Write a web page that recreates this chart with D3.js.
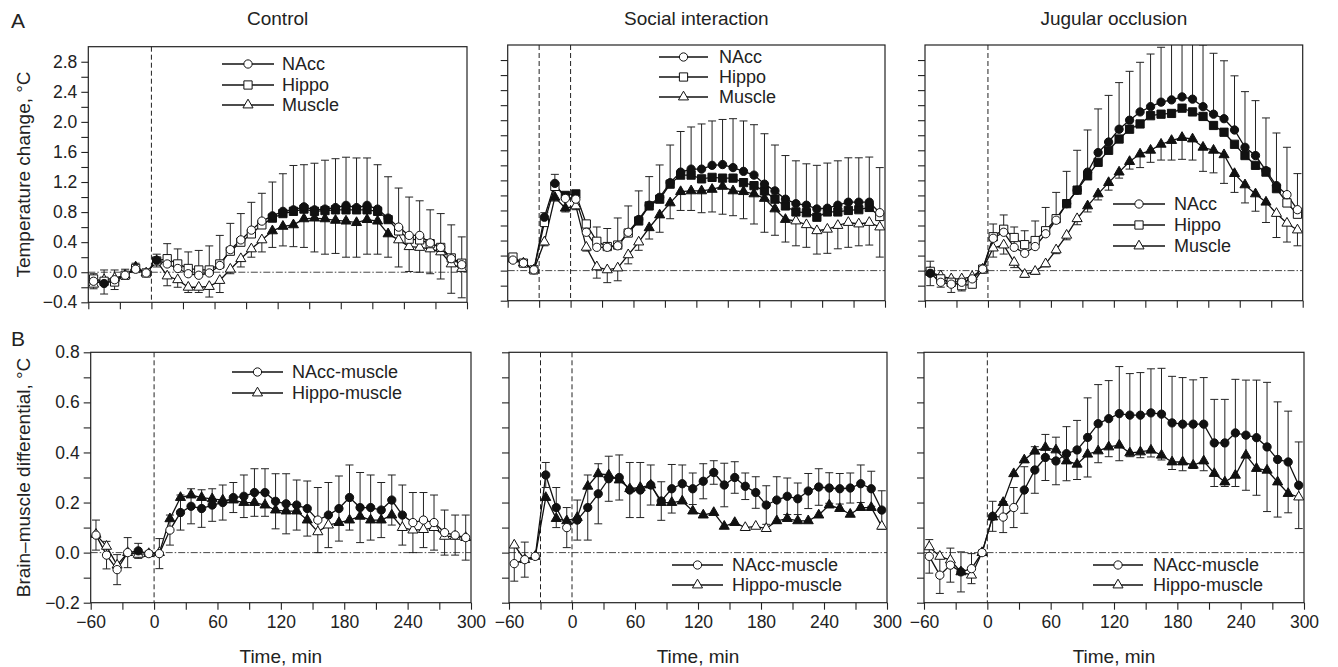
<!DOCTYPE html>
<html><head><meta charset="utf-8">
<script src="https://cdn.jsdelivr.net/npm/d3@7"></script>
<style>
body{margin:0;background:#fff}
text{font-family:"Liberation Sans",Arial,sans-serif;fill:#222}
</style></head>
<body><svg id="c" width="1338" height="667"></svg>
<script>
// ---------- DATA ----------
const times = [-55,-45,-35,-25,-15,-5,5,15,25,35,45,55,65,75,85,95,105,115,125,135,145,155,165,175,185,195,205,215,225,235,245,255,265,275,285,295];
const colTitles = ["Control","Social interaction","Jugular occlusion"];
const topLegend = ["NAcc","Hippo","Muscle"];
const botLegend = ["NAcc-muscle","Hippo-muscle"];
const xMajor = [-60,0,60,120,180,240,300];
const xMinor = [-30,30,90,150,210,270];
const topYMajor = [-0.4,0,0.4,0.8,1.2,1.6,2.0,2.4,2.8];
const topYMinor = [-0.2,0.2,0.6,1.0,1.4,1.8,2.2,2.6];
const botYMajor = [-0.2,0,0.2,0.4,0.6,0.8];
const botYMinor = [-0.1,0.1,0.3,0.5,0.7];

// Control, temperature
const ctrlNAcc = [-0.12,-0.15,-0.10,-0.04,0.04,-0.01,0.16,0.11,0.05,-0.02,-0.04,-0.01,0.09,0.30,0.43,0.56,0.68,0.75,0.81,0.83,0.87,0.83,0.84,0.86,0.89,0.86,0.89,0.84,0.72,0.60,0.49,0.49,0.39,0.33,0.18,0.10];
const ctrlHippo = [-0.09,-0.12,-0.13,-0.04,0.05,-0.01,0.15,0.18,0.11,0.05,0.03,0.03,0.11,0.28,0.40,0.51,0.63,0.72,0.78,0.81,0.84,0.81,0.82,0.83,0.83,0.83,0.83,0.81,0.70,0.55,0.44,0.43,0.38,0.33,0.19,0.12];
const ctrlMuscle = [-0.16,-0.10,-0.08,-0.04,0.07,-0.01,0.15,-0.05,-0.10,-0.20,-0.20,-0.19,-0.11,0.04,0.18,0.31,0.43,0.55,0.61,0.63,0.71,0.72,0.71,0.69,0.68,0.66,0.70,0.68,0.51,0.43,0.34,0.33,0.31,0.27,0.11,0.05];
const ctrlErrUp = [0.10,0.18,0.13,0.08,0.08,0.04,0.08,0.27,0.26,0.29,0.33,0.36,0.40,0.35,0.35,0.37,0.37,0.45,0.50,0.59,0.56,0.62,0.65,0.65,0.64,0.66,0.63,0.59,0.55,0.52,0.51,0.46,0.44,0.45,0.45,0.37];
const ctrlErrDown = [0.06,0.19,0.15,0.03,0.03,0.03,0.08,0.13,0.10,0.07,0.07,0.14,0.16,0.06,0.11,0.11,0.16,0.22,0.26,0.29,0.38,0.45,0.47,0.44,0.48,0.46,0.46,0.44,0.31,0.36,0.33,0.33,0.33,0.36,0.39,0.39];
const ctrlSigN = [0,1,0,0,0,0, 1,0,0,0,0,0, 0,0,0,0,0,1, 1,1,1,1,1,1, 1,1,1,1,1,0, 0,0,0,0,0,0];
const ctrlSigH = [0,0,0,0,0,0, 0,0,0,0,0,0, 0,0,0,0,0,1, 1,1,1,1,1,1, 1,1,1,1,1,0, 0,0,0,0,0,0];
const ctrlSigM = [0,0,0,0,1,0, 0,0,0,0,0,0, 0,0,0,0,0,1, 1,1,1,1,1,1, 1,1,1,1,1,0, 0,0,0,0,0,0];

// Social interaction, temperature
const socNAcc = [0.14,0.10,0.01,0.71,1.16,0.96,0.95,0.51,0.31,0.31,0.33,0.51,0.68,0.87,0.975,1.17,1.31,1.35,1.35,1.40,1.41,1.37,1.32,1.27,1.15,1.06,0.95,0.89,0.87,0.82,0.83,0.87,0.91,0.91,0.91,0.77];
const socHippo = [0.18,0.10,0.01,0.64,1.12,1.00,1.02,0.62,0.39,0.32,0.34,0.50,0.66,0.86,0.95,1.15,1.27,1.27,1.22,1.24,1.23,1.23,1.17,1.13,1.06,0.95,0.86,0.78,0.77,0.71,0.78,0.78,0.80,0.81,0.84,0.72];
const socMuscle = [0.155,0.10,0.01,0.38,0.975,0.83,0.86,0.31,0.05,0.01,0.035,0.21,0.38,0.57,0.74,0.90,1.05,1.06,1.06,1.08,1.12,1.06,1.05,1.02,0.96,0.82,0.68,0.66,0.61,0.53,0.55,0.60,0.64,0.62,0.64,0.58];
const socErrUp = [0.03,0.02,0.02,0.06,0.12,0.05,0.05,0.12,0.27,0.25,0.37,0.35,0.38,0.38,0.43,0.50,0.54,0.56,0.60,0.59,0.60,0.65,0.67,0.67,0.67,0.61,0.58,0.57,0.55,0.58,0.60,0.59,0.59,0.59,0.60,0.60];
const socErrDown = [0.02,0.02,0.02,0.05,0.05,0.05,0.05,0.05,0.15,0.17,0.17,0.12,0.11,0.15,0.23,0.21,0.25,0.26,0.29,0.30,0.37,0.33,0.36,0.40,0.45,0.35,0.30,0.33,0.30,0.31,0.32,0.31,0.33,0.29,0.30,0.40];
const socSigN = [0,0,0,1,1,0, 0,0,0,0,0,0, 1,1,1,1,1,1, 1,1,1,1,1,1, 1,1,1,1,1,1, 1,1,1,1,1,0];
const socSigH = [0,0,0,0,0,1, 1,0,0,0,0,0, 1,1,1,1,1,1, 1,1,1,1,1,1, 1,1,1,1,1,1, 1,1,1,1,1,0];
const socSigM = [0,0,0,0,1,1, 0,0,0,0,0,0, 0,1,1,1,1,1, 1,1,1,1,1,1, 1,1,1,0,0,0, 0,0,0,0,0,0];

// Jugular occlusion, temperature
const jugNAcc = [-0.035,-0.155,-0.18,-0.155,-0.11,0.02,0.43,0.51,0.31,0.23,0.32,0.49,0.67,0.89,1.07,1.31,1.57,1.71,1.88,2.00,2.11,2.18,2.24,2.27,2.31,2.28,2.18,2.08,2.02,1.87,1.64,1.53,1.33,1.13,1.01,0.81];
const jugHippo = [-0.01,-0.11,-0.155,-0.20,-0.18,0.02,0.45,0.55,0.44,0.345,0.40,0.53,0.69,0.89,1.07,1.26,1.44,1.60,1.75,1.88,1.95,2.06,2.08,2.09,2.16,2.11,2.05,1.93,1.84,1.68,1.53,1.40,1.31,1.09,0.90,0.75];
const jugMuscle = [-0.02,-0.07,-0.11,-0.11,-0.08,0.02,0.30,0.34,0.11,-0.05,-0.01,0.09,0.275,0.47,0.69,0.86,1.02,1.17,1.31,1.45,1.55,1.60,1.68,1.73,1.77,1.75,1.64,1.60,1.54,1.29,1.14,1.02,0.91,0.76,0.63,0.54];
const jugErrUp = [0.16,0.05,0.05,0.04,0.03,0.02,0.19,0.23,0.27,0.30,0.34,0.35,0.37,0.43,0.53,0.56,0.58,0.62,0.62,0.65,0.66,0.70,0.73,0.80,0.85,0.80,0.82,0.81,0.77,0.72,0.74,0.73,0.70,0.70,0.63,0.48];
const jugErrDown = [0.18,0.15,0.18,0.16,0.04,0.02,0.12,0.12,0.07,0.04,0.04,0.04,0.05,0.06,0.08,0.08,0.08,0.10,0.08,0.10,0.18,0.16,0.21,0.26,0.29,0.28,0.32,0.30,0.38,0.25,0.24,0.23,0.27,0.32,0.25,0.21];
const jugSigN = [1,0,0,0,0,0, 0,0,0,0,0,0, 0,1,1,1,1,1, 1,1,1,1,1,1, 1,1,1,1,1,1, 1,1,1,1,0,0];
const jugSigH = [0,0,0,0,0,0, 0,0,0,0,0,0, 0,1,1,1,1,1, 1,1,1,1,1,1, 1,1,1,1,1,1, 1,1,1,1,0,0];
const jugSigM = [0,0,0,0,0,0, 0,0,0,0,0,0, 0,0,0,1,1,1, 1,1,1,1,1,1, 1,1,1,1,1,1, 1,1,1,0,0,0];

// Brain-muscle differentials
const cbNAcc = [0.07,-0.01,-0.068,0.0,0.007,-0.004,-0.004,0.09,0.16,0.185,0.176,0.19,0.20,0.22,0.225,0.24,0.24,0.205,0.195,0.19,0.176,0.13,0.15,0.176,0.22,0.18,0.18,0.17,0.21,0.15,0.12,0.13,0.12,0.08,0.07,0.06];
const cbHippo = [0.073,0.025,-0.05,0.0,-0.007,-0.004,0.0,0.135,0.22,0.23,0.22,0.215,0.21,0.21,0.20,0.20,0.19,0.17,0.166,0.166,0.13,0.083,0.11,0.12,0.13,0.145,0.13,0.13,0.15,0.10,0.09,0.092,0.10,0.065,0.065,0.06];
const cbErr = [0.06,0.055,0.06,0.06,0.03,0.01,0.06,0.06,0.07,0.07,0.075,0.065,0.07,0.06,0.085,0.095,0.095,0.11,0.12,0.10,0.11,0.13,0.13,0.13,0.13,0.14,0.13,0.11,0.10,0.12,0.12,0.11,0.11,0.09,0.08,0.09];
const cbSigN = [0,0,0,0,1,0, 0,0,1,1,1,1, 1,1,1,1,1,1, 1,1,1,0,1,1, 1,1,1,1,1,1, 0,0,0,0,0,0];
const cbSigH = [0,0,0,0,0,0, 0,1,1,1,1,1, 1,1,1,1,1,1, 1,1,1,0,0,1, 1,1,1,1,1,0, 0,0,0,0,0,0];

const sbNAcc = [-0.044,-0.028,-0.015,0.31,0.18,0.10,0.13,0.18,0.235,0.295,0.30,0.25,0.25,0.27,0.206,0.255,0.275,0.255,0.285,0.32,0.27,0.30,0.265,0.24,0.19,0.21,0.225,0.215,0.246,0.262,0.258,0.255,0.258,0.275,0.255,0.17];
const sbHippo = [0.03,-0.028,-0.015,0.22,0.136,0.127,0.14,0.265,0.315,0.31,0.29,0.255,0.26,0.27,0.20,0.20,0.206,0.166,0.15,0.16,0.105,0.12,0.10,0.105,0.096,0.127,0.136,0.127,0.127,0.15,0.19,0.176,0.153,0.18,0.18,0.105];
const sbErr = [0.07,0.07,0.01,0.05,0.08,0.08,0.08,0.13,0.12,0.09,0.09,0.11,0.11,0.08,0.077,0.097,0.075,0.063,0.07,0.047,0.087,0.063,0.053,0.063,0.077,0.093,0.073,0.063,0.07,0.073,0.061,0.061,0.06,0.075,0.07,0.077];
const sbSigN = [0,0,0,1,1,0, 1,1,1,1,1,1, 1,1,1,1,1,1, 1,1,1,1,1,1, 1,1,1,1,1,1, 1,1,1,1,1,1];
const sbSigH = [0,0,1,1,1,1, 1,1,1,1,1,1, 1,1,1,1,1,1, 1,1,1,1,0,0, 0,1,1,1,1,1, 1,1,1,1,1,0];

const jbNAcc = [-0.015,-0.09,-0.05,-0.077,-0.064,0.0,0.145,0.142,0.18,0.25,0.33,0.38,0.366,0.395,0.41,0.46,0.515,0.535,0.555,0.549,0.549,0.558,0.553,0.518,0.513,0.513,0.513,0.438,0.438,0.478,0.469,0.459,0.422,0.372,0.362,0.269];
const jbHippo = [0.023,-0.015,-0.03,-0.077,-0.09,0.0,0.142,0.20,0.315,0.37,0.405,0.42,0.41,0.366,0.353,0.393,0.406,0.422,0.429,0.398,0.402,0.409,0.389,0.362,0.362,0.349,0.366,0.316,0.282,0.309,0.389,0.336,0.329,0.282,0.236,0.222];
const jbErr = [0.067,0.073,0.068,0.08,0.06,0.01,0.06,0.062,0.08,0.093,0.093,0.092,0.095,0.108,0.118,0.158,0.156,0.152,0.188,0.166,0.17,0.176,0.183,0.186,0.186,0.177,0.186,0.174,0.174,0.214,0.22,0.23,0.258,0.23,0.203,0.173];
const jbSigN = [0,0,0,1,0,0, 1,0,0,1,1,1, 1,1,1,1,1,1, 1,1,1,1,1,1, 1,1,1,1,1,1, 1,1,1,1,1,1];
const jbSigH = [0,0,0,1,0,0, 1,1,1,1,1,1, 1,1,1,1,1,1, 1,1,1,1,1,1, 1,1,1,1,1,1, 1,1,1,1,1,0];

// ---------- LAYOUT ----------
const svg = d3.select("#c");
const FONT = '"Liberation Sans",Arial,sans-serif';
const layout = {
  top: {ys:[[46.7,302.3],[45,300.7],[45,300.7]], dom:[-0.4,3.0], cols:[[88.3,467],[507.7,885],[925,1302.7]]},
  bot: {ys:[[352.3,602.7],[352.3,602.7],[352.3,602.7]], dom:[-0.2,0.8], cols:[[90.7,471],[509,887],[924,1304]]}
};
const shapes = {circle:d3.symbolCircle, square:d3.symbolSquare, triangle:d3.symbolTriangle};
const sizes = {circle:54, square:68, triangle:44};
const fmt = d3.format(".1f");

const panels = [
  {row:"top",col:0,series:[[ctrlMuscle,ctrlSigM,"triangle"],[ctrlHippo,ctrlSigH,"square"],[ctrlNAcc,ctrlSigN,"circle"]],
   up:[ctrlNAcc,ctrlErrUp], down:[ctrlMuscle,ctrlErrDown], vlines:[0],
   leg:{labels:topLegend,shapes:["circle","square","triangle"],x1:222,x2:274,tx:282,ys:[64,85,105]}},
  {row:"top",col:1,series:[[socMuscle,socSigM,"triangle"],[socHippo,socSigH,"square"],[socNAcc,socSigN,"circle"]],
   up:[socNAcc,socErrUp], down:[socMuscle,socErrDown], vlines:[-30,0],
   leg:{labels:topLegend,shapes:["circle","square","triangle"],x1:659,x2:708,tx:719,ys:[57,77,97]}},
  {row:"top",col:2,series:[[jugMuscle,jugSigM,"triangle"],[jugHippo,jugSigH,"square"],[jugNAcc,jugSigN,"circle"]],
   up:[jugNAcc,jugErrUp], down:[jugMuscle,jugErrDown], vlines:[0],
   leg:{labels:topLegend,shapes:["circle","square","triangle"],x1:1113,x2:1165,tx:1174,ys:[204,225,246]}},
  {row:"bot",col:0,series:[[cbHippo,cbSigH,"triangle"],[cbNAcc,cbSigN,"circle"]],
   sym:[cbNAcc,cbErr], vlines:[0],
   leg:{labels:botLegend,shapes:["circle","triangle"],x1:232,x2:283,tx:292,ys:[372,393]}},
  {row:"bot",col:1,series:[[sbHippo,sbSigH,"triangle"],[sbNAcc,sbSigN,"circle"]],
   sym:[sbNAcc,sbErr], vlines:[-30,0],
   leg:{labels:botLegend,shapes:["circle","triangle"],x1:672,x2:723,tx:732,ys:[565,585]}},
  {row:"bot",col:2,series:[[jbHippo,jbSigH,"triangle"],[jbNAcc,jbSigN,"circle"]],
   sym:[jbNAcc,jbErr], vlines:[0],
   leg:{labels:botLegend,shapes:["circle","triangle"],x1:1093,x2:1143,tx:1153,ys:[565,585]}}
];

panels.forEach((p,pi)=>{
  const L = layout[p.row];
  const [xl,xr] = L.cols[p.col];
  const [yt,yb] = L.ys[p.col];
  const x = d3.scaleLinear().domain([-60,300]).range([xl,xr]);
  const y = d3.scaleLinear().domain(L.dom).range([yb,yt]);
  const g = svg.append("g");
  const clipId = "clip"+pi;
  svg.append("clipPath").attr("id",clipId).append("rect")
    .attr("x",xl).attr("y",yt).attr("width",xr-xl).attr("height",yb-yt);

  // axes
  const yMaj = p.row==="top"?topYMajor:botYMajor, yMin = p.row==="top"?topYMinor:botYMinor;
  const ax1 = d3.axisLeft(y).tickValues(yMaj).tickSize(7).tickPadding(4)
      .tickFormat(p.col===0?fmt:()=> "");
  const ax2 = d3.axisLeft(y).tickValues(yMin).tickSize(7).tickFormat(()=> "");
  const bx1 = d3.axisBottom(x).tickValues(xMajor).tickSize(7).tickPadding(6)
      .tickFormat(p.row==="bot"?d3.format("d"):()=> "");
  const bx2 = d3.axisBottom(x).tickValues(xMinor).tickSize(7).tickFormat(()=> "");
  [ax1,ax2].forEach(a=>g.append("g").attr("transform",`translate(${xl},0)`).call(a));
  [bx1,bx2].forEach(a=>g.append("g").attr("transform",`translate(0,${yb})`).call(a));
  g.selectAll(".domain").remove();
  g.selectAll(".tick line").attr("stroke","#222").attr("stroke-width",1.1);
  g.selectAll(".tick text").attr("font-size",17.5).attr("fill","#222").attr("font-family",FONT);

  // reference lines
  g.append("line").attr("x1",xl).attr("x2",xr).attr("y1",y(0)).attr("y2",y(0))
    .attr("stroke","#333").attr("stroke-width",0.9).attr("stroke-dasharray","7,2,1.5,2");
  p.vlines.forEach(v=>g.append("line").attr("x1",x(v)).attr("x2",x(v)).attr("y1",yt).attr("y2",yb)
    .attr("stroke","#222").attr("stroke-width",1).attr("stroke-dasharray","5,3"));

  const plot = g.append("g").attr("clip-path",`url(#${clipId})`);
  const line = d3.line().x((d,i)=>x(times[i])).y(d=>y(d));
  p.series.forEach(s=>plot.append("path").attr("d",line(s[0])).attr("fill","none")
    .attr("stroke","#111").attr("stroke-width",1.3));

  // error bars
  const bars = [];
  if(p.up) p.up[0].forEach((v,i)=>bars.push([times[i],v,v+p.up[1][i]]));
  if(p.down) p.down[0].forEach((v,i)=>bars.push([times[i],v,v-p.down[1][i]]));
  if(p.sym) p.sym[0].forEach((v,i)=>bars.push([times[i],v-p.sym[1][i],v+p.sym[1][i]]));
  bars.forEach(b=>{
    plot.append("line").attr("x1",x(b[0])).attr("x2",x(b[0])).attr("y1",y(b[1])).attr("y2",y(b[2]))
      .attr("stroke","#222").attr("stroke-width",1);
    const ends = p.sym?[b[1],b[2]]:[b[2]];
    ends.forEach(e=>plot.append("line").attr("x1",x(b[0])-4).attr("x2",x(b[0])+4)
      .attr("y1",y(e)).attr("y2",y(e)).attr("stroke","#222").attr("stroke-width",1));
  });

  // markers
  p.series.forEach(s=>{
    const sym = d3.symbol().type(shapes[s[2]]).size(sizes[s[2]]);
    plot.selectAll(null).data(s[0]).enter().append("path")
      .attr("d",sym).attr("transform",(d,i)=>`translate(${x(times[i])},${y(d)})`)
      .attr("fill",(d,i)=>s[1][i]?"#111":"#fff").attr("stroke","#111").attr("stroke-width",1);
  });

  // frame
  g.append("rect").attr("x",xl).attr("y",yt).attr("width",xr-xl).attr("height",yb-yt)
    .attr("fill","none").attr("stroke","#222").attr("stroke-width",1.2);

  // legend
  const lg = p.leg;
  lg.labels.forEach((lab,i)=>{
    const yy = lg.ys[i];
    g.append("line").attr("x1",lg.x1).attr("x2",lg.x2).attr("y1",yy).attr("y2",yy)
      .attr("stroke","#111").attr("stroke-width",1.3);
    g.append("path").attr("d",d3.symbol().type(shapes[lg.shapes[i]]).size(sizes[lg.shapes[i]]))
      .attr("transform",`translate(${(lg.x1+lg.x2)/2},${yy})`).attr("fill","#fff")
      .attr("stroke","#111").attr("stroke-width",1);
    g.append("text").attr("x",lg.tx).attr("y",yy).attr("dy","0.36em").attr("font-size",18).text(lab);
  });

  if(p.row==="top"){
    svg.append("text").attr("x",(xl+xr)/2).attr("y",25).attr("text-anchor","middle")
      .attr("font-size",19).text(colTitles[p.col]);
  } else {
    svg.append("text").attr("x",(xl+xr)/2).attr("y",663).attr("text-anchor","middle")
      .attr("font-size",19).text("Time, min");
  }
});

svg.append("text").attr("x",11).attr("y",28).attr("font-size",21).text("A");
svg.append("text").attr("x",11).attr("y",346).attr("font-size",21).text("B");
svg.append("text").attr("transform","translate(23,174.5) rotate(-90)").attr("text-anchor","middle")
  .attr("dy","0.35em").attr("font-size",19).text("Temperature change, °C");
svg.append("text").attr("transform","translate(23,477.5) rotate(-90)").attr("text-anchor","middle")
  .attr("dy","0.35em").attr("font-size",19).text("Brain–muscle differential, °C");
</script></body></html>
